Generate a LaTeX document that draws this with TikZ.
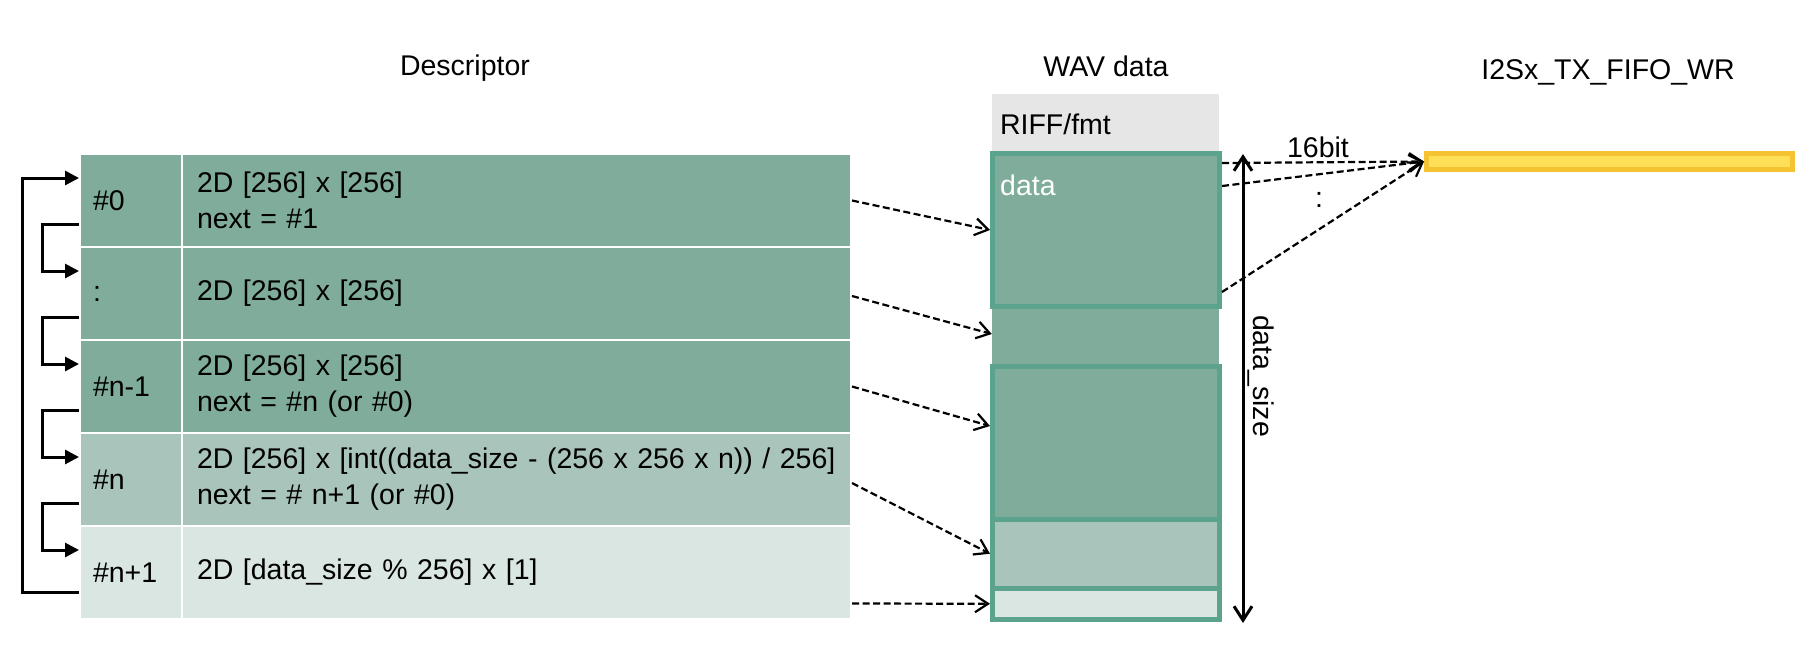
\documentclass[tikz,border=0pt]{standalone}
\usepackage{fontspec}
\setmainfont{Liberation Sans}
\usetikzlibrary{arrows.meta}
\definecolor{cdark}{RGB}{128,173,155}
\definecolor{cmid}{RGB}{169,196,186}
\definecolor{clight}{RGB}{218,230,225}
\definecolor{wborder}{RGB}{92,163,142}
\definecolor{riffgray}{RGB}{231,230,230}
\definecolor{fifoedge}{RGB}{245,195,50}
\definecolor{fifofill}{RGB}{255,223,88}
\begin{document}
\begin{tikzpicture}[x=1pt,y=-1pt,
  font=\fontsize{28.5}{36}\selectfont,
  idcell/.style={draw=white,line width=2pt,minimum width=102pt,minimum height=93pt,
    inner xsep=13pt,inner ysep=0pt,text width=76pt,align=left},
  desccell/.style={draw=white,line width=2pt,minimum width=669pt,minimum height=93pt,
    inner xsep=15pt,inner ysep=0pt,text width=639pt,align=left},
  wbox/.style={draw=wborder,line width=5pt,minimum width=227pt,inner sep=0pt},
  plain/.style={inner sep=0pt},
  looparrow/.style={line width=3pt,-{Triangle[length=14pt,width=14pt]}},
  dasharrow/.style={line width=2.2pt,dash pattern=on 7pt off 3.5pt,
    -{Straight Barb[length=13pt,width=17pt,line width=2.2pt]}},
  sizearrow/.style={line width=3pt,
    {Straight Barb[length=14pt,width=18pt]}-{Straight Barb[length=14pt,width=18pt]}}
]
\useasboundingbox (0,0) rectangle (1819,649);

% headers
\node[plain] (hdesc) at (465,68) {Descriptor};
\node[plain] (hwav) at (1106,66) {WAV data};
\node[plain] (hfifo) at (1608,72) {I2Sx\_TX\_FIFO\_WR};

% descriptor table
\node[idcell,fill=cdark] (c0a) at (131,200.5) {\#0};
\node[desccell,fill=cdark] (c0b) at (516.5,200.5) {2D [256] x [256]\\next = \#1};
\node[idcell,fill=cdark] (c1a) at (131,293.5) {:};
\node[desccell,fill=cdark] (c1b) at (516.5,293.5) {2D [256] x [256]};
\node[idcell,fill=cdark] (c2a) at (131,386.5) {\#n-1};
\node[desccell,fill=cdark] (c2b) at (516.5,386.5) {2D [256] x [256]\\next = \#n (or \#0)};
\node[idcell,fill=cmid] (c3a) at (131,479.5) {\#n};
\node[desccell,fill=cmid] (c3b) at (516.5,479.5) {2D [256] x [int((data\_size - (256 x 256 x n)) / 256]\\next = \# n+1 (or \#0)};
\node[idcell,fill=clight] (c4a) at (131,572.5) {\#n+1};
\node[desccell,fill=clight] (c4b) at (516.5,572.5) {2D [data\_size \% 256] x [1]};

% linked-list arrows
\draw[looparrow] ([yshift=-23.5pt]c0a.west) -- ++(-37,0) |- ([yshift=22.5pt]c1a.west);
\draw[looparrow] ([yshift=-23.5pt]c1a.west) -- ++(-37,0) |- ([yshift=22.5pt]c2a.west);
\draw[looparrow] ([yshift=-23.5pt]c2a.west) -- ++(-37,0) |- ([yshift=22.5pt]c3a.west);
\draw[looparrow] ([yshift=-23.5pt]c3a.west) -- ++(-37,0) |- ([yshift=22.5pt]c4a.west);
\draw[looparrow] ([yshift=-20pt]c4a.west) -- ++(-57,0) |- ([yshift=22.5pt]c0a.west);

% WAV data
\node[fill=riffgray,minimum width=227pt,minimum height=61pt,inner xsep=8pt,inner ysep=0pt,
  text width=211pt,align=left] (riff) at (1105.5,124.5) {RIFF/fmt};
\node[fill=cdark,minimum width=227pt,minimum height=58pt,inner sep=0pt] (gap1) at (1105.5,336) {};
\node[wbox,fill=cdark,minimum height=153pt] (box1) at (1106,230) {};
\node[wbox,fill=cdark,minimum height=153pt] (box2) at (1106,443) {};
\node[wbox,fill=cmid,minimum height=68.5pt] (box3) at (1106,553.75) {};
\node[wbox,fill=clight,minimum height=31.5pt] (box4) at (1106,603.75) {};
\node[plain,anchor=west,text=white] (datalbl) at (1000,185) {data};

% descriptor -> data arrows
\draw[dasharrow] (c0b.east) -- (box1.west);
\draw[dasharrow] ([yshift=-2.5pt]c1b.east) -- ([yshift=2pt]gap1.west);
\draw[dasharrow] (c2b.east) -- ([yshift=17pt]box2.west);
\draw[dasharrow] ([yshift=-3.5pt]c3b.east) -- (box3.west);
\draw[dasharrow] ([yshift=-31pt]c4b.east) -- (box4.west);

% data_size
\coordinate (dsT) at (1243,154);
\coordinate (dsB) at (1243,623);
\draw[sizearrow] (dsT) -- (dsB);
\node[plain,rotate=-90] (dslbl) at (1261,376) {data\_size};

% FIFO
\node[draw=fifoedge,fill=fifofill,line width=5pt,minimum width=366pt,minimum height=16pt,inner sep=0pt] (fifo) at (1609.5,161.5) {};
\draw[dasharrow] ([yshift=-12pt]box1.north east) -- (fifo.west);
\draw[dasharrow] ([yshift=-35pt]box1.north east) -- (fifo.west);
\draw[dasharrow] ([yshift=17pt]box1.south east) -- (fifo.west);
\node[plain] (bitlbl) at (1318,147.5) {16bit};
\node[plain] (dots) at (1319,200) {:};
\end{tikzpicture}
\end{document}
